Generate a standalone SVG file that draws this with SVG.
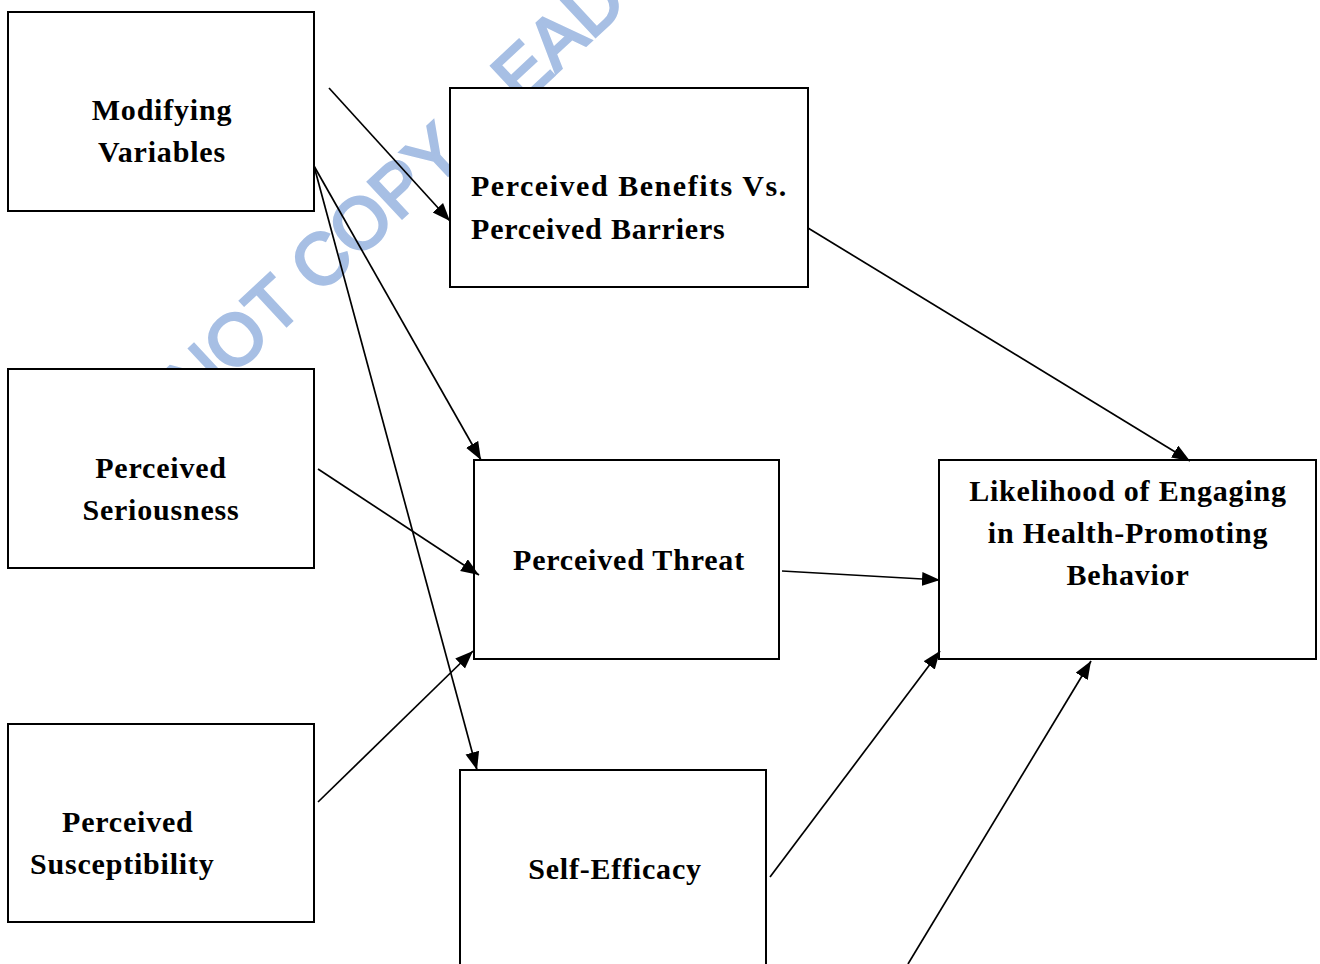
<svg xmlns="http://www.w3.org/2000/svg" width="1320" height="964" viewBox="0 0 1320 964">
  <style>
    .box { fill: #ffffff; stroke: #000000; stroke-width: 2; }
    .lbl { font-family: "Liberation Serif", "Times New Roman", serif; font-weight: bold; font-size: 30px; letter-spacing: 0.8px; fill: #000000; }
    .mid { text-anchor: middle; }
    .edge { stroke: #000000; stroke-width: 1.7; fill: none; marker-end: url(#arrow); }
    .wm { font-family: "Liberation Sans", Arial, sans-serif; font-size: 72px; fill: #a7bfe4; stroke: #a7bfe4; stroke-width: 3; }
  </style>
  <defs>
    <marker id="arrow" markerUnits="userSpaceOnUse" markerWidth="20" markerHeight="16" refX="18" refY="7" orient="auto">
      <path d="M0,0 L18,7 L0,14 z" fill="#000000"/>
    </marker>
  </defs>
  <rect x="0" y="0" width="1320" height="964" fill="#ffffff"/>

  <g id="watermark">
    <text class="wm" x="194" y="412" transform="rotate(-43 194 412)">NOT COPY</text>
    <text class="wm" x="521" y="106" transform="rotate(-43 521 106)">EAD</text>
  </g>

  <g id="modifying">
    <rect class="box" x="8" y="12" width="306" height="199"/>
    <text class="lbl mid" x="162" y="120">Modifying</text>
    <text class="lbl mid" x="162" y="162">Variables</text>
  </g>
  <g id="seriousness">
    <rect class="box" x="8" y="369" width="306" height="199"/>
    <text class="lbl mid" x="161" y="478">Perceived</text>
    <text class="lbl mid" x="161" y="520">Seriousness</text>
  </g>
  <g id="susceptibility">
    <rect class="box" x="8" y="724" width="306" height="198"/>
    <text class="lbl" x="62" y="832">Perceived</text>
    <text class="lbl" x="30" y="874">Susceptibility</text>
  </g>
  <g id="benefits">
    <rect class="box" x="450" y="88" width="358" height="199"/>
    <text class="lbl" x="471" y="196" textLength="316" lengthAdjust="spacing">Perceived  Benefits  Vs.</text>
    <text class="lbl" x="471" y="239">Perceived Barriers</text>
  </g>
  <g id="threat">
    <rect class="box" x="474" y="460" width="305" height="199"/>
    <text class="lbl mid" x="629" y="570">Perceived Threat</text>
  </g>
  <g id="selfefficacy">
    <rect class="box" x="460" y="770" width="306" height="220"/>
    <text class="lbl mid" x="615" y="879">Self-Efficacy</text>
  </g>
  <g id="likelihood">
    <rect class="box" x="939" y="460" width="377" height="199"/>
    <text class="lbl mid" x="1128" y="501">Likelihood of Engaging</text>
    <text class="lbl mid" x="1128" y="543">in Health-Promoting</text>
    <text class="lbl mid" x="1128" y="585">Behavior</text>
  </g>

  <g id="connectors">
    <line class="edge" x1="329" y1="88" x2="450" y2="221"/>
    <line class="edge" x1="314" y1="166" x2="481" y2="460"/>
    <line class="edge" x1="314" y1="166" x2="477" y2="770"/>
    <line class="edge" x1="318" y1="469" x2="479" y2="575"/>
    <line class="edge" x1="318" y1="802" x2="473" y2="651"/>
    <line class="edge" x1="782" y1="571" x2="940" y2="580"/>
    <line class="edge" x1="770" y1="877" x2="940" y2="651"/>
    <line class="edge" x1="908" y1="964" x2="1091" y2="661"/>
    <line class="edge" x1="808" y1="228" x2="1190" y2="461"/>
  </g>
</svg>
